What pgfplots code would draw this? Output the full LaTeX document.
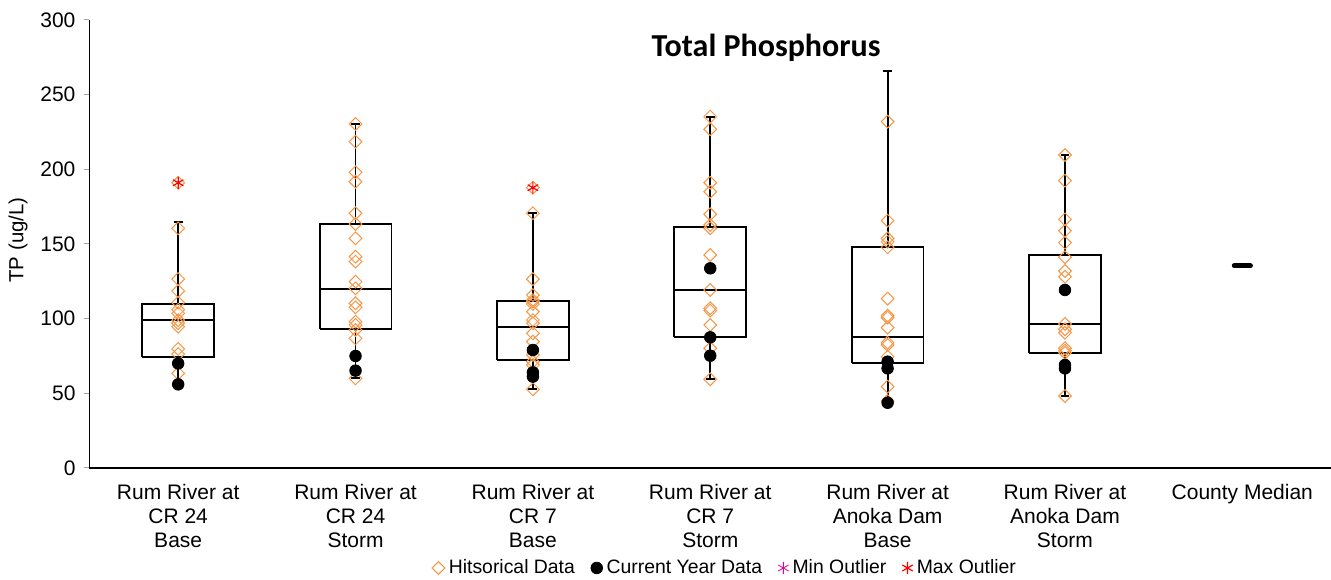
\documentclass[border=0pt]{standalone}
\usepackage{pgfplots}
\pgfplotsset{compat=1.18}
\usepackage{fontspec}
\setmainfont{Liberation Sans}
\newfontfamily\titlefont{Carlito}
\definecolor{histor}{HTML}{F79646}
\begin{document}
\begin{tikzpicture}
\begin{axis}[
  scale only axis,
  width=620.75pt, height=224pt,
  xmin=-0.5, xmax=6.5, ymin=0, ymax=300,
  axis lines*=left,
  axis line style={black, line width=0.6pt},
  tick align=outside,
  ytick={0,50,...,300},
  ytick style={gray!70, line width=0.5pt},
  major tick length=2.5pt,
  xtick={0,1,2,3,4,5,6},
  xticklabels={Rum River at\\CR 24\\Base, Rum River at\\CR 24\\Storm, Rum River at\\CR 7\\Base, Rum River at\\CR 7\\Storm, Rum River at\\Anoka Dam\\Base, Rum River at\\Anoka Dam\\Storm, County Median},
  xtick style={draw=none},
  minor xtick={-0.5,0.5,...,6.5},
  minor tick length=2pt,
  minor x tick style={gray!70, line width=0.5pt},
  xticklabel style={align=center, font=\fontsize{10.5}{12}\selectfont, yshift=-2pt},
  yticklabel style={font=\fontsize{10.5}{12}\selectfont, xshift=-1pt},
  /pgf/number format/assume math mode=true,
  ylabel={TP (ug/L)},
  ylabel style={at={(axis description cs:-0.0576,0.509)}, anchor=center, font=\fontsize{10.2}{12}\selectfont},
  legend columns=-1,
  legend style={at={(0.5127,-0.2232)}, anchor=center, draw=none, font=\fontsize{9.7}{11}\selectfont, /tikz/every even column/.append style={column sep=6pt}},
  legend cell align=left,
  unbounded coords=jump,
  clip=false,
]
% boxes: box, median, upper whisker + cap, lower whisker + cap
\addplot[black, line width=0.9pt, forget plot] coordinates {
(-0.2025,74.1) (0.2025,74.1) (0.2025,110) (-0.2025,110) (-0.2025,74.1) (nan,nan)
(-0.2025,99) (0.2025,99) (nan,nan)
(0,110) (0,164.7) (nan,nan) (-0.025,164.7) (0.025,164.7) (nan,nan)
(0,74.1) (0,56) (nan,nan) (-0.025,56) (0.025,56)
};
\addplot[black, line width=0.9pt, forget plot] coordinates {
(0.7975,93.3) (1.2025,93.3) (1.2025,163.4) (0.7975,163.4) (0.7975,93.3) (nan,nan)
(0.7975,120) (1.2025,120) (nan,nan)
(1,163.4) (1,230.4) (nan,nan) (0.975,230.4) (1.025,230.4) (nan,nan)
(1,93.3) (1,60) (nan,nan) (0.975,60) (1.025,60)
};
\addplot[black, line width=0.9pt, forget plot] coordinates {
(1.7975,72.3) (2.2025,72.3) (2.2025,111.6) (1.7975,111.6) (1.7975,72.3) (nan,nan)
(1.7975,94.2) (2.2025,94.2) (nan,nan)
(2,111.6) (2,170.6) (nan,nan) (1.975,170.6) (2.025,170.6) (nan,nan)
(2,72.3) (2,52.7) (nan,nan) (1.975,52.7) (2.025,52.7)
};
\addplot[black, line width=0.9pt, forget plot] coordinates {
(2.7975,87.5) (3.2025,87.5) (3.2025,161.6) (2.7975,161.6) (2.7975,87.5) (nan,nan)
(2.7975,119.2) (3.2025,119.2) (nan,nan)
(3,161.6) (3,235.3) (nan,nan) (2.975,235.3) (3.025,235.3) (nan,nan)
(3,87.5) (3,59.4) (nan,nan) (2.975,59.4) (3.025,59.4)
};
\addplot[black, line width=0.9pt, forget plot] coordinates {
(3.7975,70.1) (4.2025,70.1) (4.2025,148.2) (3.7975,148.2) (3.7975,70.1) (nan,nan)
(3.7975,87.5) (4.2025,87.5) (nan,nan)
(4,148.2) (4,265.9) (nan,nan) (3.975,265.9) (4.025,265.9) (nan,nan)
(4,70.1) (4,43.7) (nan,nan) (3.975,43.7) (4.025,43.7)
};
\addplot[black, line width=0.9pt, forget plot] coordinates {
(4.7975,77.2) (5.2025,77.2) (5.2025,142.6) (4.7975,142.6) (4.7975,77.2) (nan,nan)
(4.7975,96.4) (5.2025,96.4) (nan,nan)
(5,142.6) (5,209.6) (nan,nan) (4.975,209.6) (5.025,209.6) (nan,nan)
(5,77.2) (5,48.2) (nan,nan) (4.975,48.2) (5.025,48.2)
};
% historical
\addplot[only marks, mark=square, mark size=2.25pt, mark options={rotate=45, draw=histor, fill=none, line width=0.5pt}] table {
x y
0 191
0 160.5
0 126.5
0 118.5
0 110.7
0 106
0 103.6
0 99
0 97
0 94.6
0 79.7
0 76.3
0 63.4
1 230.4
1 218.5
1 198
1 191.7
1 170.6
1 163.4
1 153.8
1 141.5
1 138.2
1 124.8
1 120.3
1 110.3
1 107.6
1 98
1 95.8
1 92.4
1 86.8
1 60
2 187.7
2 170.6
2 126.5
2 115.8
2 112.5
2 111.4
2 109.8
2 104.7
2 99.1
2 96.9
2 90.2
2 84.6
2 75.7
2 71.2
2 69
2 52.7
3 235.3
3 226.8
3 191
3 185
3 169.9
3 162.7
3 160.5
3 142.6
3 119.2
3 107
3 105.4
3 95.8
3 80.2
3 59.4
4 231.9
4 165.6
4 153.8
4 151.5
4 147.8
4 113.4
4 102
4 100.7
4 94
4 83.9
4 82.4
4 74.5
4 54.5
4 44.9
5 209.6
5 192.4
5 166.5
5 158.9
5 150.9
5 141.1
5 131.9
5 128.1
5 96.4
5 92.9
5 90.6
5 80.2
5 78.6
5 77.2
5 48.2
};
\addlegendentry{Hitsorical Data}
% current year
\addplot[only marks, mark=*, mark size=2.9pt, mark options={draw=black, fill=black}] table {
x y
0 70
0 56
1 75
1 65.2
2 79
2 64
2 61.2
3 133.7
3 87.5
3 75.2
4 71.2
4 66.7
4 43.7
5 119.2
5 69
5 66.7
};
\addlegendentry{Current Year Data}
\addlegendimage{only marks, mark=asterisk, mark size=3pt, magenta}
\addlegendentry{Min Outlier}
\addplot[only marks, mark=asterisk, mark size=3pt, red, line width=0.6pt] table {
x y
0 191
2 187.7
};
\addlegendentry{Max Outlier}
% county median
\addplot[black, line width=2.6pt, line cap=round, forget plot] coordinates {(5.955,135.4) (6.045,135.4)};
\node[font=\titlefont\bfseries\fontsize{16}{18}\selectfont] at (rel axis cs:0.545,0.937) {Total Phosphorus};
\end{axis}
\pgfresetboundingbox
\path ([xshift=-44.75pt, yshift=-56pt]current axis.south west) rectangle ([yshift=10pt]current axis.north east);
\end{tikzpicture}
\end{document}
